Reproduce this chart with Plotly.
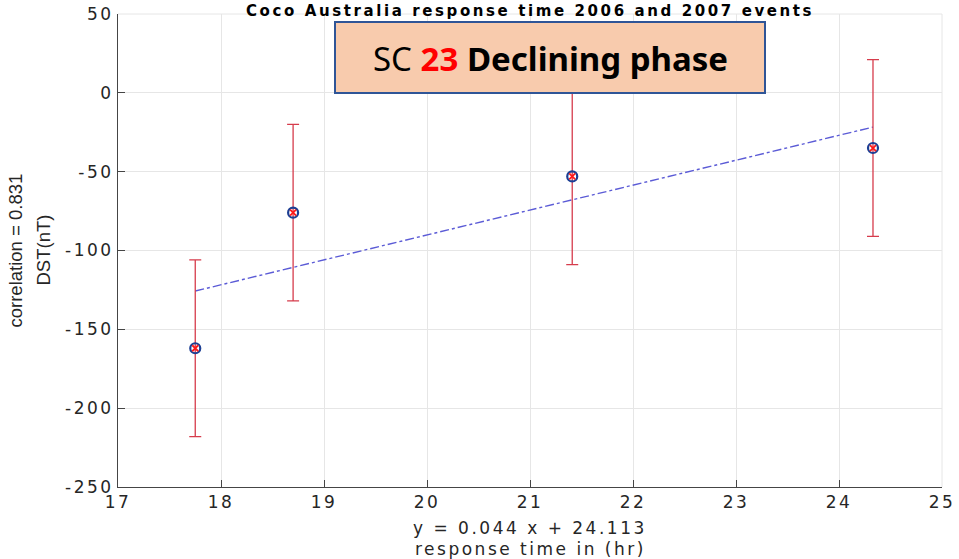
import numpy as np
import plotly.graph_objects as go

# Response time (hr) vs. DST (nT) for the 2006/2007 events at Coco, Australia
response_time = [17.75, 18.70, 21.41, 24.33]
dst = [-162, -76, -53, -35]
dst_err = [56, 56, 56, 56]

x_ticks = [17, 18, 19, 20, 21, 22, 23, 24, 25]
y_ticks = [50, 0, -50, -100, -150, -200, -250]

# least-squares trend line across the observed range
slope, intercept = np.polyfit(response_time, dst, 1)
fit_x = np.array([min(response_time), max(response_time)])
fit_y = slope * fit_x + intercept

W, H = 959, 559
L, R, T, B = 118, 17, 14, 72
pw, ph = W - L - R, H - T - B

err_color = "#d63c4c"
font = "DejaVu Sans, sans-serif"
vfont = "Liberation Sans, Arial, sans-serif"
ink = "#262626"


def wide(s, sp=2.5):
    return f"<span style='letter-spacing:{sp}px'>{s}</span>"


fig = go.Figure()

fig.add_trace(go.Scatter(
    x=fit_x, y=fit_y, mode="lines",
    line=dict(color="#5b5bd6", width=1.4, dash="dashdot"),
    hoverinfo="skip", showlegend=False,
))

fig.add_trace(go.Scatter(
    x=response_time, y=dst, mode="markers",
    error_y=dict(type="data", array=dst_err, visible=True,
                 color=err_color, thickness=1.3, width=6),
    marker=dict(symbol="circle-open", size=10, color="#1c3f94",
                line=dict(width=2.2, color="#1c3f94")),
    showlegend=False,
))

fig.add_trace(go.Scatter(
    x=response_time, y=dst, mode="markers",
    marker=dict(symbol="x-thin-open", size=6, color="#ff1a1a",
                line=dict(width=1.8, color="#ff1a1a")),
    showlegend=False,
))

axis_common = dict(
    showgrid=True, gridcolor="#e6e6e6", gridwidth=1,
    showline=True, linecolor="#454545", linewidth=1,
    ticks="inside", ticklen=7, tickcolor="#454545",
    tickfont=dict(family=font, size=17, color=ink),
    zeroline=False, automargin=False,
)

fig.update_xaxes(range=[17, 25], tickvals=x_ticks,
                 ticktext=[wide(str(v)) for v in x_ticks], **axis_common)
fig.update_yaxes(range=[-250, 50], tickvals=y_ticks,
                 ticktext=[wide(str(v)) for v in y_ticks], **axis_common)


def px_x(px):
    return (px - L) / pw


def px_y(py):
    return (T + ph - py) / ph


annotations = [
    dict(text="<b>" + wide("Coco Australia response time 2006 and 2007 events", 2.6) + "</b>",
         x=0.5, y=px_y(0), xref="paper", yref="paper",
         showarrow=False, font=dict(family=font, size=15, color="#000000"),
         xanchor="center", yanchor="top"),
    dict(text=wide("y = 0.044 x + 24.113"),
         x=0.5, y=px_y(528), xref="paper", yref="paper",
         showarrow=False, font=dict(family=font, size=17, color=ink),
         xanchor="center", yanchor="middle"),
    dict(text=wide("response time in (hr)"),
         x=0.5, y=px_y(549), xref="paper", yref="paper",
         showarrow=False, font=dict(family=font, size=17, color=ink),
         xanchor="center", yanchor="middle"),
    dict(text="correlation = 0.831",
         x=px_x(15), y=0.5, xref="paper", yref="paper", textangle=-90,
         showarrow=False, font=dict(family=vfont, size=18.5, color=ink),
         xanchor="center", yanchor="middle"),
    dict(text="DST(nT)",
         x=px_x(43), y=0.5, xref="paper", yref="paper", textangle=-90,
         showarrow=False, font=dict(family=vfont, size=18.5, color=ink),
         xanchor="center", yanchor="middle"),
    dict(text="SC <b><span style='color:#ff0000'>23</span> Declining phase</b>",
         x=px_x(550), y=px_y(58), xref="paper", yref="paper",
         showarrow=False, font=dict(family="Noto Sans, sans-serif", size=33, color="#000000"),
         xanchor="center", yanchor="middle"),
]

fig.update_layout(
    width=W, height=H,
    margin=dict(l=L, r=R, t=T, b=B),
    paper_bgcolor="white", plot_bgcolor="white",
    annotations=annotations,
    shapes=[
        # light frame on the top and right edges
        dict(type="line", xref="paper", yref="paper", x0=0, x1=1, y0=1, y1=1,
             line=dict(color="#e6e6e6", width=1), layer="below"),
        dict(type="line", xref="paper", yref="paper", x0=1, x1=1, y0=0, y1=1,
             line=dict(color="#e6e6e6", width=1), layer="below"),
        # label panel
        dict(type="rect", xref="paper", yref="paper",
             x0=px_x(335), x1=px_x(765), y0=px_y(93), y1=px_y(22),
             fillcolor="#f8cbad", line=dict(color="#2f5597", width=2),
             layer="above"),
    ],
)

fig.write_html("out.html")
